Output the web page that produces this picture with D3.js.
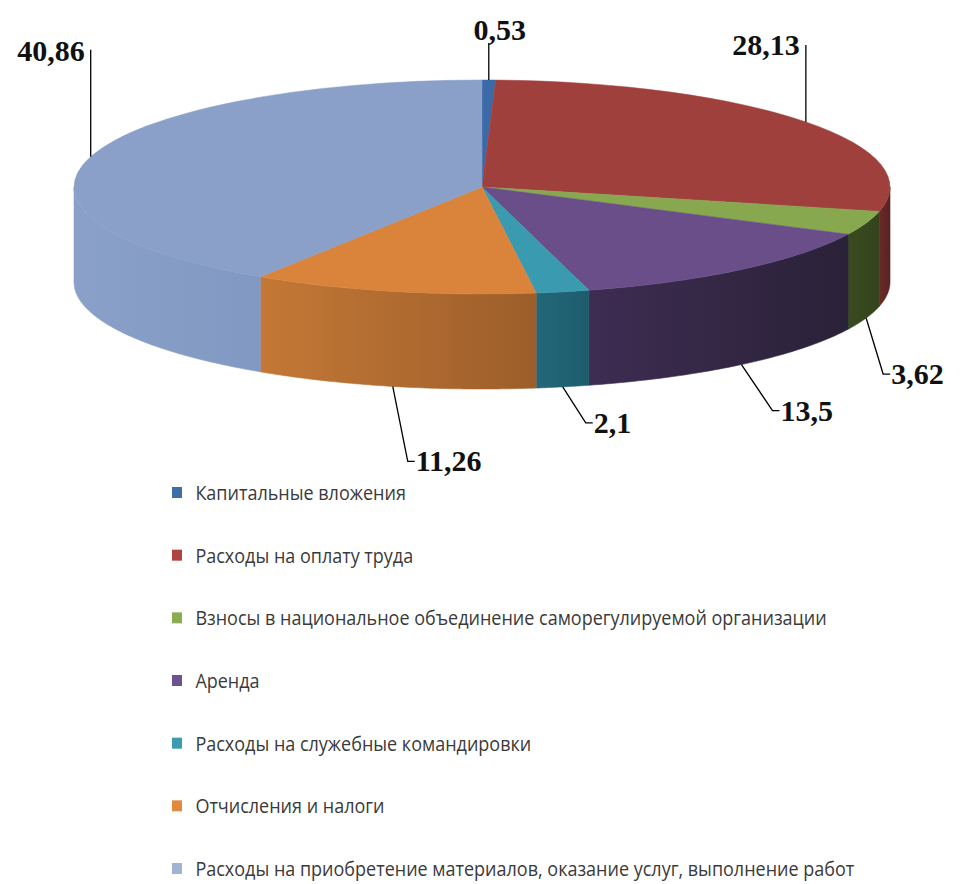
<!DOCTYPE html>
<html>
<head>
    <meta charset="UTF-8">
    <title>3D pie</title>
    <style>
        body { margin: 0; background: #fff; }
    </style>
</head>
<body>
    <script src="https://d3js.org/d3.v7.min.js"></script>
    <script type="text/javascript">
        // data
        var categories = ["Капитальные вложения",
                          "Расходы на оплату труда",
                          "Взносы в национальное объединение саморегулируемой организации",
                          "Аренда",
                          "Расходы на служебные командировки",
                          "Отчисления и налоги",
                          "Расходы на приобретение материалов, оказание услуг, выполнение работ"];
        var values = [0.53, 28.13, 3.62, 13.5, 2.1, 11.26, 40.86];
        var valueLabels = ["0,53", "28,13", "3,62", "13,5", "2,1", "11,26", "40,86"];

        // colours: top face, side (left / right of the wall), legend swatch
        var topColors  = ["#3b6aa9", "#a0403d", "#87a84e", "#6a4e8a", "#3a9ab0", "#d9843a", "#8aa0c8"];
        var sideLeft   = ["#2d5284", "#6a2a28", "#3a4a20", "#3e2c52", "#22687a", "#c47836", "#8aa0c8"];
        var sideRight  = ["#2d5284", "#5a2222", "#33431c", "#2a2238", "#1e5c6c", "#9c5e2a", "#8199c2"];
        var swatchColors = ["#3e6eaa", "#b04440", "#8cac52", "#6c528e", "#3c9cb2", "#e08a40", "#a2b4d4"];

        var width = 965, height = 884;
        var cx = 482, cy = 187, rx = 408, ry = 107, depth = 95;

        var svg = d3.select("body").append("svg")
            .attr("width", width)
            .attr("height", height);
        var defs = svg.append("defs");

        var pie = d3.pie().sort(null).value(function(d){ return d; });
        var arcs = pie(values);

        // point on the rim for angle a (0 = top, clockwise)
        var px = d3.scaleLinear().domain([-1, 1]).range([cx - rx, cx + rx]);
        var py = d3.scaleLinear().domain([-1, 1]).range([cy - ry, cy + ry]);
        function rim(a, dy) {
            return [px(Math.sin(a)), py(-Math.cos(a)) + (dy || 0)];
        }

        // visible wall: angles between PI/2 and 3PI/2
        var line = d3.line();
        arcs.forEach(function(d, i){
            var a0 = Math.max(d.startAngle, Math.PI / 2);
            var a1 = Math.min(d.endAngle, Math.PI * 3 / 2);
            if (a1 <= a0) return;
            var n = 60, pts = [], k;
            for (k = 0; k <= n; k++) pts.push(rim(a0 + (a1 - a0) * k / n, 0));
            for (k = n; k >= 0; k--) pts.push(rim(a0 + (a1 - a0) * k / n, depth));

            var x0 = rim(a0)[0], x1 = rim(a1)[0];
            var g = defs.append("linearGradient")
                .attr("id", "side" + i)
                .attr("gradientUnits", "userSpaceOnUse")
                .attr("x1", Math.min(x0, x1)).attr("x2", Math.max(x0, x1))
                .attr("y1", 0).attr("y2", 0);
            g.append("stop").attr("offset", "0%").attr("stop-color", sideLeft[i]);
            g.append("stop").attr("offset", "100%").attr("stop-color", sideRight[i]);

            svg.append("path")
                .attr("d", line(pts) + "Z")
                .attr("fill", "url(#side" + i + ")")
                .attr("stroke", "url(#side" + i + ")")
                .attr("stroke-width", 0.6);
        });

        // top face
        var arc = d3.arc().innerRadius(0).outerRadius(rx);
        var topFace = svg.append("g")
            .attr("transform", "translate(" + cx + "," + cy + ") scale(1," + (ry / rx) + ")");
        topFace.selectAll("path")
            .data(arcs)
            .enter().append("path")
            .attr("d", arc)
            .attr("fill", function(d, i){ return topColors[i]; })
            .attr("stroke", function(d, i){ return topColors[i]; })
            .attr("stroke-width", 0.8);

        // data labels with leader lines
        // back: vertical line up; front: line down-right then small tick
        var labelLayout = [
            {back: true, up: 37, tx: 11, ty: -3, anchor: "middle"},
            {back: true, up: 77, tx: -6, ty: 10, anchor: "end"},
            {back: false, dx: 17, dy: 56},
            {back: false, dx: 31, dy: 46},
            {back: false, dx: 23, dy: 36},
            {back: false, dx: 15, dy: 75},
            {back: true, up: 107, tx: -6, ty: 11, anchor: "end"}
        ];
        arcs.forEach(function(d, i){
            var mid = (d.startAngle + d.endAngle) / 2;
            var L = labelLayout[i];
            var p;
            if (L.back) {
                p = rim(mid, 0);
                svg.append("line")
                    .attr("x1", p[0]).attr("y1", p[1])
                    .attr("x2", p[0]).attr("y2", p[1] - L.up)
                    .attr("stroke", "#000").attr("stroke-width", 1.3);
                svg.append("text")
                    .attr("x", p[0] + L.tx)
                    .attr("y", p[1] - L.up + L.ty)
                    .attr("text-anchor", L.anchor)
                    .attr("class", "lbl")
                    .text(valueLabels[i]);
            } else {
                p = rim(mid, depth);
                var ex = p[0] + L.dx, ey = p[1] + L.dy;
                svg.append("polyline")
                    .attr("points", [p, [ex, ey], [ex + 7, ey]].join(" "))
                    .attr("fill", "none")
                    .attr("stroke", "#000").attr("stroke-width", 1.3);
                svg.append("text")
                    .attr("x", ex + 8)
                    .attr("y", ey + 10)
                    .attr("class", "lbl")
                    .text(valueLabels[i]);
            }
        });
        svg.selectAll("text.lbl")
            .attr("font-family", "'Liberation Serif', 'Times New Roman', serif")
            .attr("font-weight", "bold")
            .attr("font-size", 30)
            .attr("fill", "#111");

        // legend
        var ly = d3.scalePoint().domain(d3.range(categories.length)).range([493, 869]);
        var legend = svg.append("g");
        var item = legend.selectAll("g")
            .data(categories)
            .enter().append("g")
            .attr("transform", function(d, i){ return "translate(172," + ly(i) + ")"; });
        item.append("rect")
            .attr("x", 0).attr("y", -6)
            .attr("width", 10).attr("height", 11)
            .attr("fill", function(d, i){ return swatchColors[i]; });
        item.append("text")
            .attr("x", 24)
            .attr("y", 7)
            .attr("font-family", "'Open Sans', sans-serif")
            .attr("font-size", 20)
            .attr("fill", "#3a3a3a")
            .attr("transform", "scale(0.9,1)")
            .attr("dx", 2)
            .text(function(d){ return d; });
    </script>
</body>
</html>
